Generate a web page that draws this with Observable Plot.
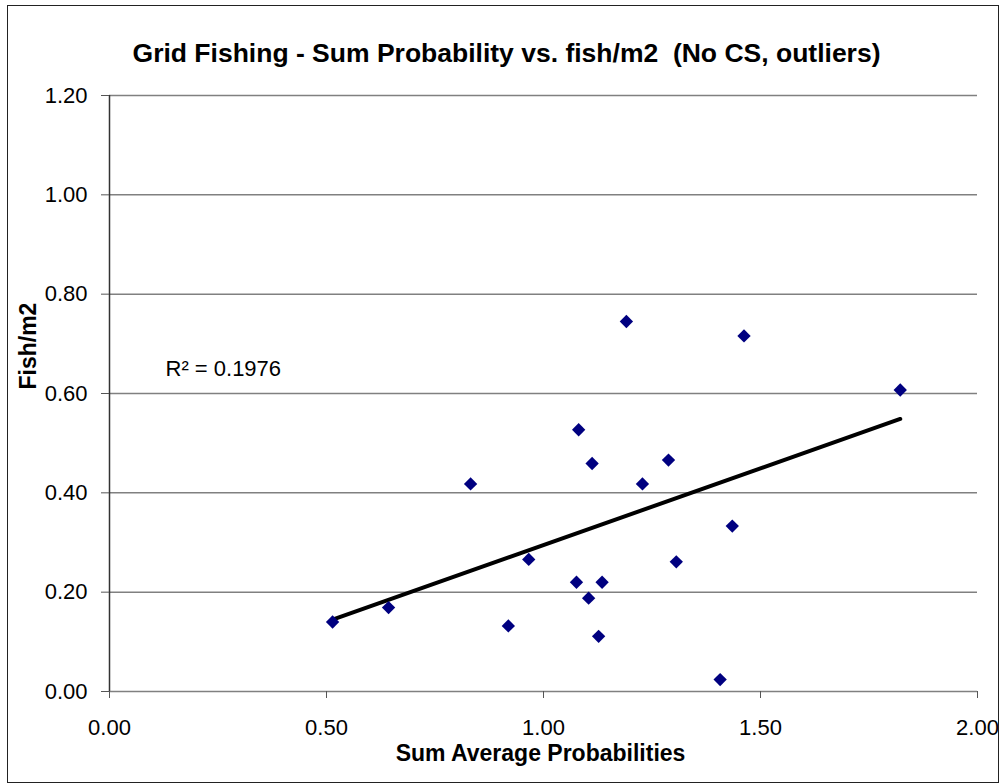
<!DOCTYPE html>
<html>
<head>
<meta charset="utf-8">
<script src="https://cdn.jsdelivr.net/npm/d3@7"></script>
<script src="https://cdn.jsdelivr.net/npm/@observablehq/plot@0.6"></script>
<style>
  html, body { margin: 0; padding: 0; background: #fff; }
  #wrap { position: relative; width: 1003px; height: 784px; }
  #frame { position: absolute; left: 7px; top: 5px; width: 990px; height: 776px; border: 1.5px solid #222; pointer-events: none; }
</style>
</head>
<body>
<div id="wrap"><div id="frame"></div></div>
<script>
const title = "Grid Fishing - Sum Probability vs. fish/m2  (No CS, outliers)";
const xLabel = "Sum Average Probabilities";
const yLabel = "Fish/m2";
const r2Label = "R\u00B2 = 0.1976";

const sumProb = [0.514, 0.643, 0.832, 0.919, 0.966, 1.076, 1.081, 1.104, 1.112, 1.127,
                 1.135, 1.191, 1.228, 1.288, 1.435, 1.306, 1.407, 1.462, 1.822];
const fishM2  = [0.140, 0.169, 0.418, 0.132, 0.266, 0.220, 0.527, 0.188, 0.459, 0.111,
                 0.220, 0.745, 0.418, 0.466, 0.333, 0.261, 0.024, 0.716, 0.607];
const xTicks = [0, 0.5, 1, 1.5, 2];
const yTicks = [0, 0.2, 0.4, 0.6, 0.8, 1.0, 1.2];

const data = sumProb.map((x, i) => ({x, y: fishM2[i]}));
const fmt = d3.format(".2f");

const chart = Plot.plot({
  width: 1003,
  height: 784,
  marginLeft: 109,
  marginRight: 26,
  marginTop: 95,
  marginBottom: 93,
  style: {fontFamily: "Arial, 'Liberation Sans', sans-serif", fontSize: "22px", color: "black", background: "transparent"},
  x: {domain: [0, 2]},
  y: {domain: [0, 1.2]},
  marks: [
    Plot.gridY(yTicks, {stroke: "#808080", strokeOpacity: 1, strokeWidth: 1.5}),
    Plot.ruleX([0], {stroke: "#333", strokeWidth: 1.5}),
    Plot.axisX(xTicks, {tickFormat: fmt, tickSize: 7, tickPadding: 21, stroke: "#555", fill: "black", label: null, fontSize: 22}),
    Plot.axisY(yTicks, {tickFormat: fmt, tickSize: 8, tickPadding: 14, stroke: "#555", fill: "black", label: null, fontSize: 22}),
    Plot.linearRegressionY(data, {x: "x", y: "y", ci: 0, stroke: "black", strokeWidth: 4}),
    Plot.dot(data, {x: "x", y: "y", symbol: "diamond2", r: 6, fill: "#000080", stroke: "none"}),
    Plot.text([title], {frameAnchor: "top", dx: -37, dy: -52, fontSize: 26.5, fontWeight: "bold", fill: "black"}),
    Plot.text([xLabel], {frameAnchor: "bottom", dx: -3, dy: 69, fontSize: 23, fontWeight: "bold", fill: "black"}),
    Plot.text([yLabel], {frameAnchor: "left", dx: -81, dy: -4, rotate: -90, fontSize: 23, fontWeight: "bold", fill: "black"}),
    Plot.text([r2Label], {frameAnchor: "top-left", dx: 56, dy: 265, textAnchor: "start", fontSize: 22, fill: "black"})
  ]
});
document.getElementById("wrap").prepend(chart);
</script>
</body>
</html>
